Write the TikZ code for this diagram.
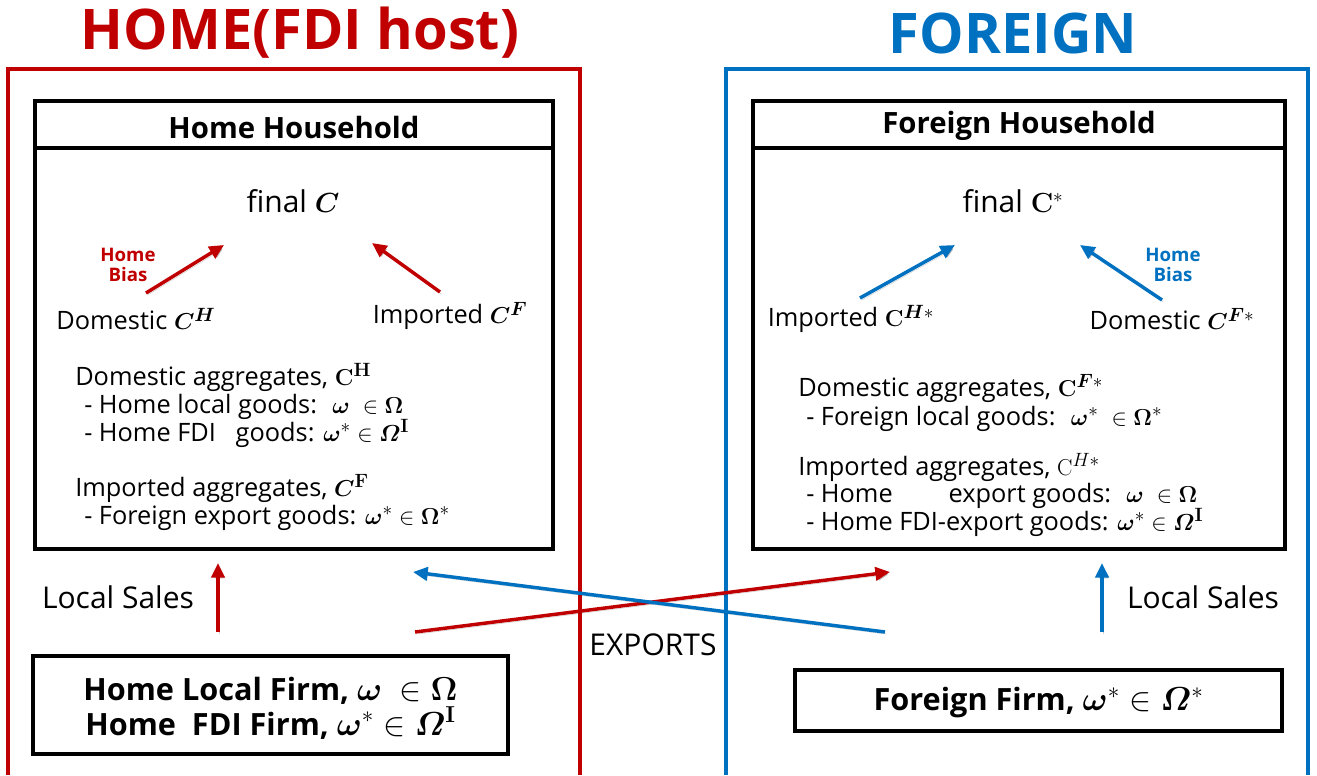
\documentclass[tikz,border=0pt]{standalone}
\usepackage{amsmath,bm}
\usepackage[no-math]{fontspec}
\setmainfont{Open Sans}
\usetikzlibrary{arrows.meta}
\definecolor{homered}{HTML}{C00000}
\definecolor{forblue}{HTML}{0070C0}
\begin{document}
\begin{tikzpicture}[x=0.75pt,y=-0.75pt,
  frameline/.style={line width=2.3pt},
  boxline/.style={draw=black,line width=2.8pt},
  flow/.style={line width=2.6pt,-{Triangle[length=11pt,width=10pt]},
    preaction={draw=black,opacity=0.18,transform canvas={shift={(1.2pt,-1.6pt)}}}},
  body/.style={font=\fontsize{19}{22}\selectfont,inner sep=0pt},
  big/.style={font=\fontsize{22.5}{25}\selectfont,inner sep=0pt},
  line/.style={body,anchor=base west},
  title/.style={font=\fontsize{42}{46}\selectfont\bfseries},
  head/.style={font=\fontsize{22}{25}\selectfont\bfseries},
  bias/.style={font=\fontsize{14}{15}\selectfont\bfseries,align=center},
  firm/.style={font=\fontsize{23}{26}\selectfont\bfseries,align=center},
  boxframe/.style={boxline,inner sep=0pt}]
\useasboundingbox (0,0) rectangle (1317,775);

% country titles and frames
\node[title,text=homered] (homeT) at (300,33) {HOME(FDI host)};
\node[title,text=forblue] (forT) at (1013,33) {FOREIGN};
\draw[frameline,homered] (8,775) -- (8,69) -- (580,69) -- (580,775);
\draw[frameline,forblue] (726,775) -- (726,69) -- (1308,69) -- (1308,775);

% households
\node[boxframe,minimum width=388.5pt,minimum height=336pt] (hh) at (294,325) {};
\draw[boxline] (35,148) -- (553,148);
\node[head] (hhT) at (294,127) {Home Household};
\node[boxframe,minimum width=399pt,minimum height=336pt] (fh) at (1019,325) {};
\draw[boxline] (753,148) -- (1285,148);
\node[head] (fhT) at (1019,126) {Foreign Household};

% home household contents
\node[big] (hC) at (293,201) {final $\bm{C}$};
\node[body] (hCH) at (136,319) {Domestic $\bm{C^{H}}$};
\node[body] (hCF) at (450,316) {Imported $\bm{C^{F}}$};
\node[bias,text=homered] (hBias) at (128,265) {Home\\[0pt]Bias};
\coordinate (hA1s) at (146,293); \coordinate (hA1e) at (224,245);
\coordinate (hA2s) at (440,292); \coordinate (hA2e) at (372,243);
\draw[flow,homered] (hA1s) -- (hA1e);
\draw[flow,homered] (hA2s) -- (hA2e);

\node[line] (hL1) at (75,385) {Domestic aggregates, $\mathbf{C^{H}}$};
\node[line] (hL2) at (84,413) {- Home local goods: \ $\bm{\omega}\ \in \bm{\Omega}$};
\node[line] (hL3) at (84,441) {- Home FDI \ \ goods: $\bm{\omega}^{*}\in \bm{\varOmega}^{\mathbf{I}}$};
\node[line] (hL4) at (75,496) {Imported aggregates, $\bm{C}^{\mathbf{F}}$};
\node[line] (hL5) at (84,524) {- Foreign export goods: $\bm{\omega}^{*}\in \bm{\Omega}^{*}$};

% foreign household contents
\node[big] (fC) at (1013,201) {final $\mathbf{C}^{*}$};
\node[body] (fCH) at (851,319) {Imported $\mathbf{C}^{\bm{H}*}$};
\node[body] (fCF) at (1172,319) {Domestic $\bm{C}^{\bm{F}*}$};
\node[bias,text=forblue] (fBias) at (1173,265) {Home\\[0pt]Bias};
\coordinate (fA1s) at (860,298); \coordinate (fA1e) at (955,245);
\coordinate (fA2s) at (1162,300); \coordinate (fA2e) at (1080,245);
\draw[flow,forblue] (fA1s) -- (fA1e);
\draw[flow,forblue] (fA2s) -- (fA2e);

\node[line] (fL1) at (798,396) {Domestic aggregates, $\mathbf{C}^{\bm{F}*}$};
\node[line] (fL2) at (806,425) {- Foreign local goods: \ $\bm{\omega}^{*}\ \in \bm{\Omega}^{*}$};
\node[line] (fL3) at (798,475) {Imported aggregates, $\mathrm{C}^{H*}$};
\node[line] (fL4) at (806,502) {- Home \hspace{32pt} export goods: \ $\bm{\omega}\ \in \bm{\Omega}$};
\node[line] (fL5) at (806,530) {- Home FDI-export goods: $\bm{\omega}^{*}\in \bm{\varOmega}^{\mathbf{I}}$};

% firms
\node[boxframe,minimum width=356.25pt,minimum height=73.5pt] (hFirm) at (270.5,705) {};
\node[firm] (hFirmT) at (270.5,708)
  {Home Local Firm, $\bm{\omega}\ \in \bm{\Omega}$\\Home \ FDI Firm, $\bm{\omega}^{*}\in \bm{\varOmega}^{\mathbf{I}}$};
\node[boxframe,minimum width=365.25pt,minimum height=45.75pt] (fFirm) at (1038.5,700.5) {};
\node[firm] (fFirmT) at (1038.5,703) {Foreign Firm, $\bm{\omega}^{*}\in \bm{\varOmega}^{*}$};

% local sales
\node[big] (hLS) at (118,597) {Local Sales};
\node[big] (fLS) at (1203,597) {Local Sales};
\coordinate (hS1) at (218,632); \coordinate (hS2) at (218,563);
\coordinate (fS1) at (1102,632); \coordinate (fS2) at (1102,563);
\draw[flow,homered] (hS1) -- (hS2);
\draw[flow,forblue] (fS1) -- (fS2);

% exports
\coordinate (eR1) at (415,632); \coordinate (eR2) at (890,572);
\coordinate (eB1) at (885,632); \coordinate (eB2) at (413,572);
\draw[flow,homered] (eR1) -- (eR2);
\draw[flow,forblue] (eB1) -- (eB2);
\node[big] (exp) at (653,645) {EXPORTS};
\end{tikzpicture}
\end{document}
